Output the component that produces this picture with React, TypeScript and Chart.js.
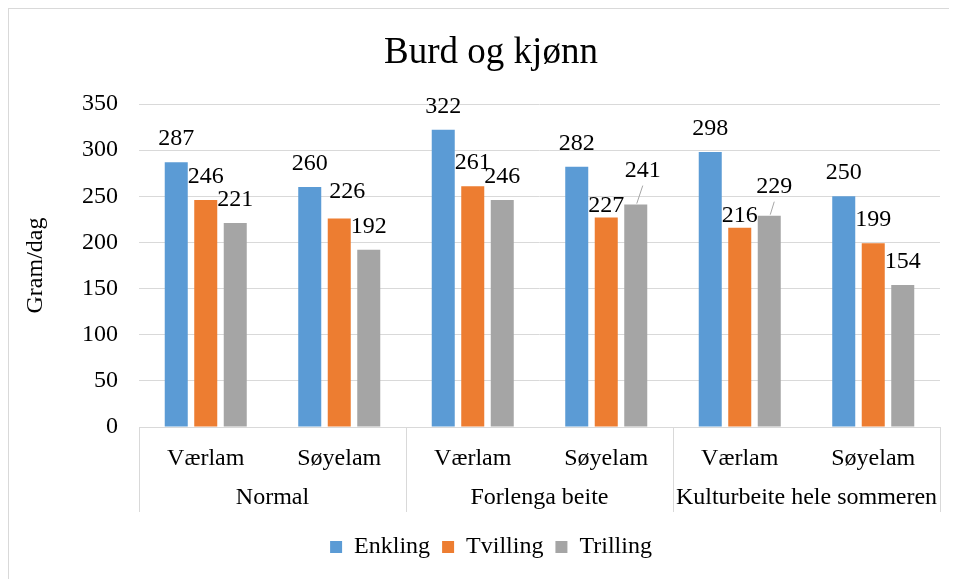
import { useEffect, useRef } from 'react';
import { Chart, registerables } from 'chart.js';

Chart.register(...registerables);

const subCategories = ['Værlam', 'Søyelam', 'Værlam', 'Søyelam', 'Værlam', 'Søyelam'];
const groups = ['Normal', 'Forlenga beite', 'Kulturbeite hele sommeren'];
const seriesNames = ['Enkling', 'Tvilling', 'Trilling'];
const enkling = [287, 260, 322, 282, 298, 250];
const tvilling = [246, 226, 261, 227, 216, 199];
const trilling = [221, 192, 246, 241, 229, 154];
const yTicks = { min: 0, max: 350, step: 50 };

const COLORS = ['#5B9BD5', '#ED7D31', '#A5A5A5'];
const FONT = 'Liberation Serif';
const GRID = '#d9d9d9';
const FS = 24;

// label nudges (dx, dy) and whether a leader line is drawn
const LABEL_NUDGE: Record<string, { dx: number; dy: number; leader?: boolean }> = {
  '1-1': { dx: 8, dy: -3 },
  '1-3': { dx: 0, dy: 11 },
  '2-3': { dx: 7, dy: -11, leader: true },
  '1-4': { dx: 0, dy: 11 },
  '2-4': { dx: 5, dy: -6, leader: true },
};

const dataLabelPlugin = {
  id: 'dataLabels',
  afterDatasetsDraw(chart: any) {
    const ctx = chart.ctx;
    ctx.save();
    ctx.font = `${FS}px "${FONT}"`;
    ctx.fillStyle = '#000';
    ctx.textAlign = 'center';
    ctx.textBaseline = 'alphabetic';
    chart.data.datasets.forEach((ds: any, di: number) => {
      const meta = chart.getDatasetMeta(di);
      meta.data.forEach((el: any, i: number) => {
        const n = LABEL_NUDGE[`${di}-${i}`] || { dx: 0, dy: 0 };
        const lx = el.x + n.dx;
        const ly = el.y - 17 + n.dy;
        ctx.fillText(String(ds.data[i]), lx, ly);
        if (n.leader) {
          ctx.strokeStyle = '#a6a6a6';
          ctx.lineWidth = 1;
          ctx.beginPath();
          ctx.moveTo(lx, ly + 9);
          ctx.lineTo(el.x + 1, el.y - 1);
          ctx.stroke();
        }
      });
    });
    ctx.restore();
  },
};

const groupAxisPlugin = {
  id: 'groupAxis',
  afterDraw(chart: any) {
    const ctx = chart.ctx;
    const xs = chart.scales.x;
    const area = chart.chartArea;
    const n = subCategories.length;
    const per = n / groups.length;
    const step = (area.right - area.left) / n;
    ctx.save();
    ctx.strokeStyle = GRID;
    ctx.lineWidth = 1;
    for (let g = 0; g <= groups.length; g++) {
      const idx = Math.min(g * per, n - 1);
      let x = g * per >= n ? xs.getPixelForValue(n - 1) + step / 2 : xs.getPixelForValue(idx) - step / 2;
      x = Math.round(x) + 0.5;
      ctx.beginPath();
      ctx.moveTo(x, area.bottom);
      ctx.lineTo(x, area.bottom + 85);
      ctx.stroke();
    }
    ctx.font = `${FS}px "${FONT}"`;
    ctx.fillStyle = '#000';
    ctx.textAlign = 'center';
    ctx.textBaseline = 'middle';
    groups.forEach((name, g) => {
      const a = xs.getPixelForValue(g * per);
      const b = xs.getPixelForValue(g * per + per - 1);
      ctx.fillText(name, (a + b) / 2, area.bottom + 71);
    });
    ctx.restore();
  },
};

export default function App() {
  const ref = useRef<HTMLCanvasElement>(null);
  useEffect(() => {
    const values = [enkling, tvilling, trilling];
    const chart = new Chart(ref.current!, {
      type: 'bar',
      data: {
        labels: subCategories,
        datasets: seriesNames.map((name, i) => ({
          label: name,
          data: values[i],
          backgroundColor: COLORS[i],
          borderWidth: 0,
          categoryPercentage: 0.663,
          barPercentage: 0.78,
        })),
      },
      options: {
        responsive: false,
        animation: false,
        layout: { padding: { left: 33, right: 17, top: 22, bottom: 10 } },
        plugins: {
          title: {
            display: true,
            text: 'Burd og kjønn',
            color: '#000',
            font: { family: FONT, size: 37, weight: 'normal' },
            padding: { top: 0, bottom: 28.6 },
          },
          legend: {
            position: 'bottom',
            labels: {
              color: '#000',
              font: { family: FONT, size: FS },
              boxWidth: 12,
              boxHeight: 12,
              padding: 12,
            },
          },
          tooltip: { enabled: false },
        },
        scales: {
          x: {
            grid: { display: false, drawTicks: false },
            border: { display: true, color: GRID },
            ticks: {
              color: '#000',
              font: { family: FONT, size: FS },
              padding: 17,
              autoSkip: false,
              maxRotation: 0,
            },
            afterFit(scale: any) {
              scale.height = 96;
            },
          },
          y: {
            min: yTicks.min,
            max: yTicks.max,
            grid: { color: GRID, drawTicks: false },
            border: { display: false },
            ticks: {
              stepSize: yTicks.step,
              color: '#000',
              font: { family: FONT, size: FS },
              padding: 21,
            },
            title: {
              display: true,
              text: 'Gram/dag',
              color: '#000',
              font: { family: FONT, size: FS },
              padding: { top: -21, bottom: 0 },
            },
            afterFit(scale: any) {
              scale.width = 97;
            },
          },
        },
      },
      plugins: [dataLabelPlugin, groupAxisPlugin],
    });
    return () => chart.destroy();
  }, []);
  return (
    <div
      style={{
        width: 949,
        height: 571,
        borderLeft: '1px solid #d9d9d9',
        borderTop: '1px solid #d9d9d9',
        boxSizing: 'border-box',
      }}
    >
      <canvas ref={ref} width={948} height={570} style={{ display: 'block' }} />
    </div>
  );
}
